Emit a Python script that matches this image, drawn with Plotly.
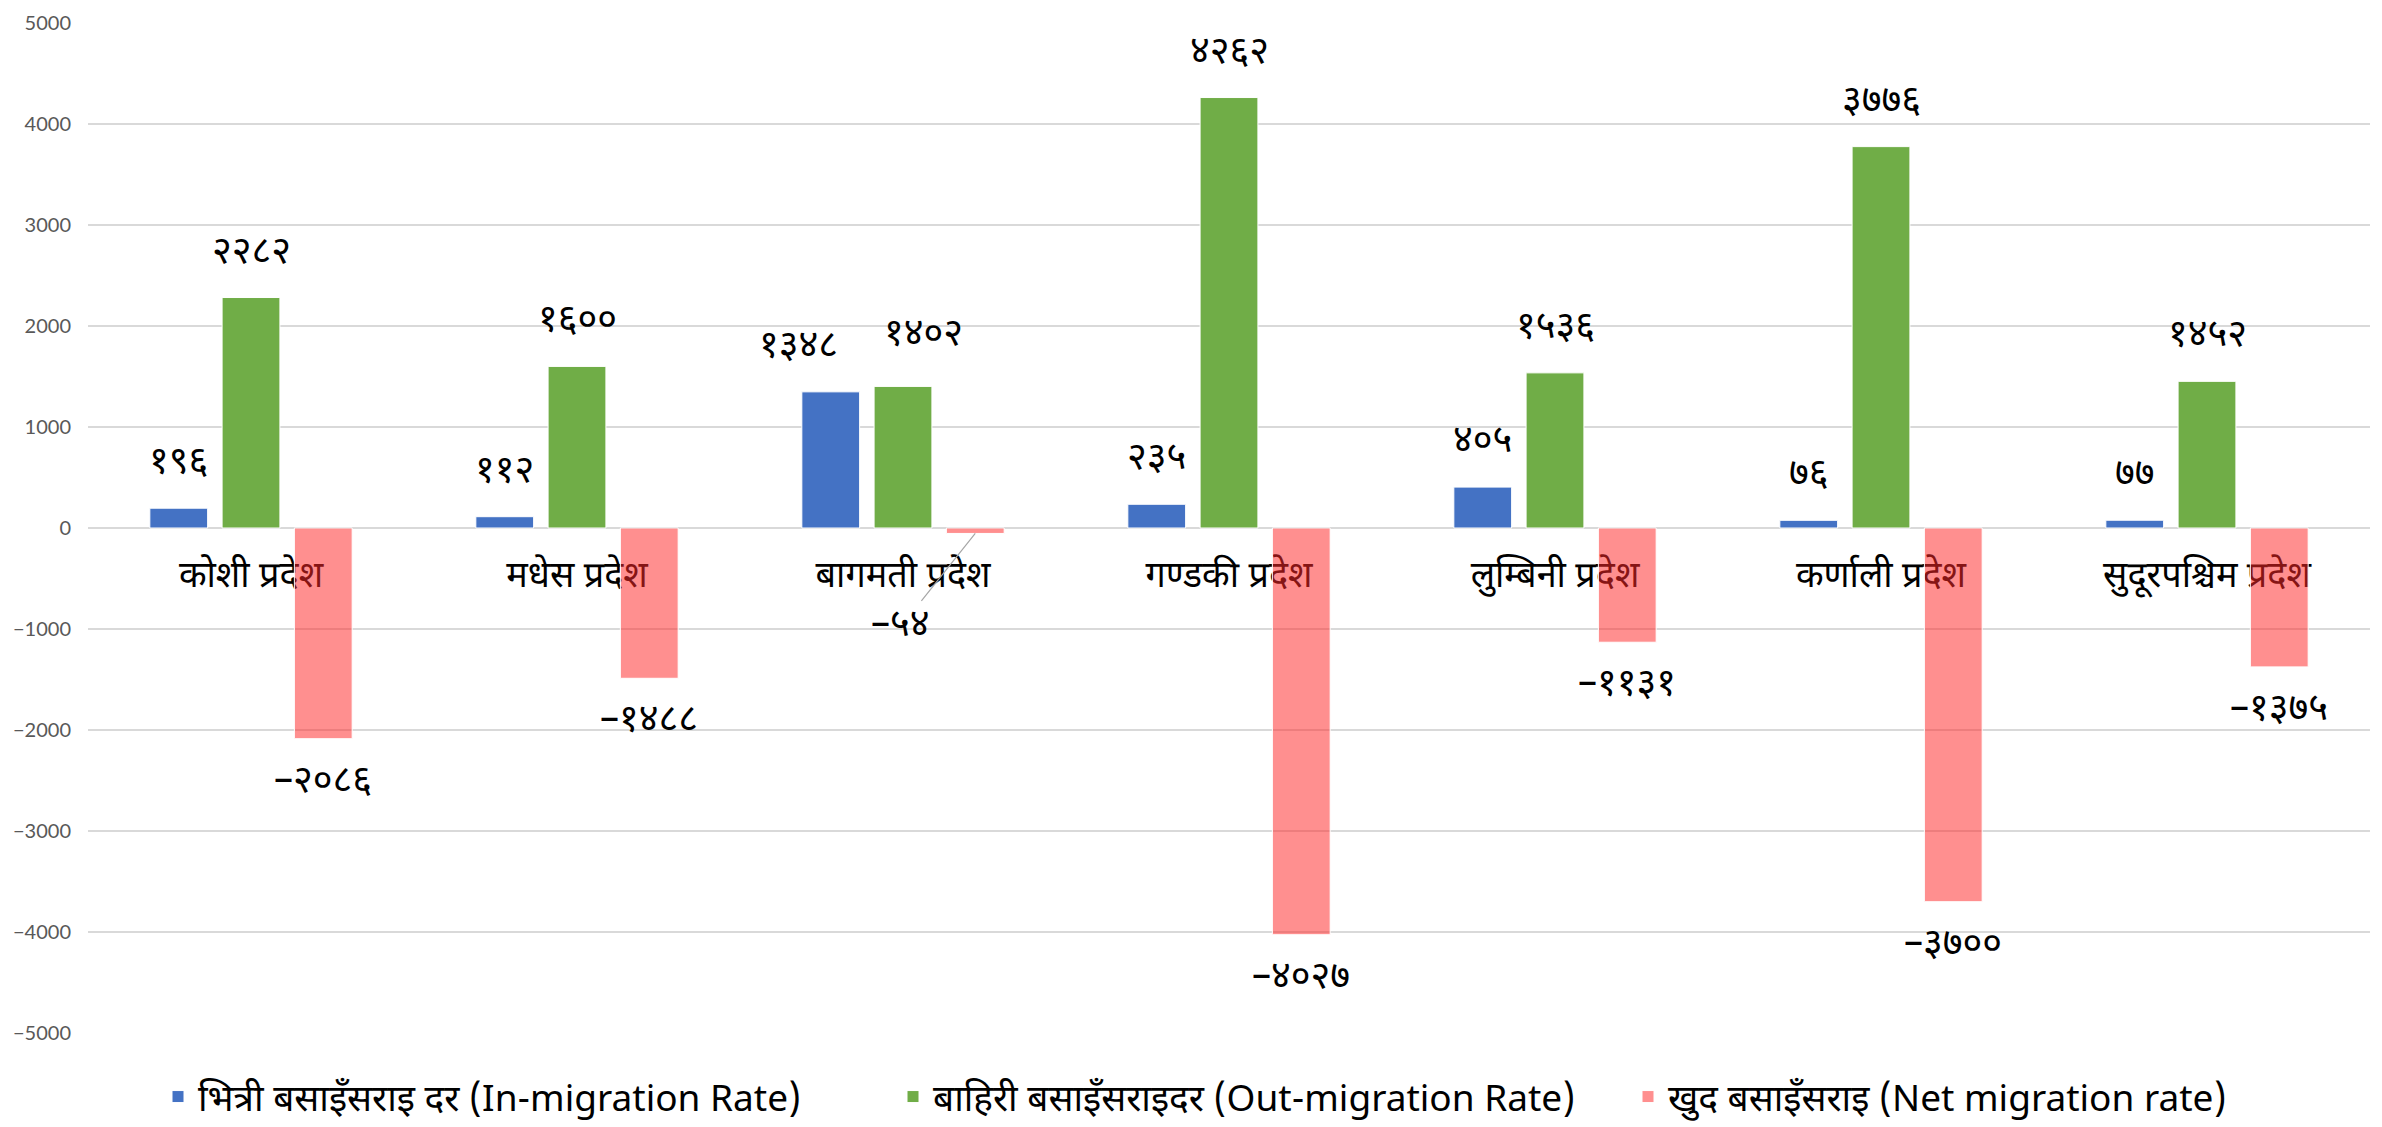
"""Provincial migration rates (Nepal) - grouped bar chart"""

import plotly.graph_objects as go

provinces = ['कोशी प्रदेश', 'मधेस प्रदेश', 'बागमती प्रदेश', 'गण्डकी प्रदेश',
             'लुम्बिनी प्रदेश', 'कर्णाली प्रदेश', 'सुदूरपश्चिम प्रदेश']
in_migration = [196, 112, 1348, 235, 405, 76, 77]
out_migration = [2282, 1600, 1402, 4262, 1536, 3776, 1452]
net_migration = [-2086, -1488, -54, -4027, -1131, -3700, -1375]

series_names = ['भित्री बसाइँसराइ दर (In-migration Rate)',
                'बाहिरी बसाइँसराइदर (Out-migration Rate)',
                'खुद बसाइँसराइ (Net migration rate)']
y_ticks = [5000, 4000, 3000, 2000, 1000, 0, -1000, -2000, -3000, -4000, -5000]

COLORS = ['#4472C4', '#70AD47', 'rgba(255,40,40,0.52)']
DEV_DIGITS = str.maketrans('0123456789-', '०१२३४५६७८९–')
DEV_FONT = 'Noto Sans Devanagari, Lohit Devanagari, Mangal, sans-serif'

# page body has an 8px margin, so the figure is a bit smaller than the window
W, H = 2374, 1119
M = dict(l=80, r=12, t=15, b=94)
BARGAP = 0.335
plot_w = W - M['l'] - M['r']
plot_h = H - M['t'] - M['b']
slot_px = plot_w / len(provinces) * (1 - BARGAP) / 3

# manual label nudges (series index, category index) -> (dx, dy) in px
nudges = {(0, 2): (-32, 0), (1, 2): (20, -6)}

fig = go.Figure()
all_series = [in_migration, out_migration, net_migration]
for name, vals, col in zip(series_names, all_series, COLORS):
    fig.add_trace(go.Bar(
        x=provinces, y=vals, name=name,
        marker=dict(color=col, line=dict(color='white', width=1)),
        hoverinfo='x+y',
    ))

annotations = []
for si, vals in enumerate(all_series):
    for ci, v in enumerate(vals):
        label = str(v).translate(DEV_DIGITS)
        dx, dy = nudges.get((si, ci), (0, 0))
        xs = (si - 1) * slot_px + dx
        if si == 2 and ci == 2:
            # small bar: label pulled out with a leader line
            annotations.append(dict(
                x=provinces[ci], y=v, xshift=xs, text=label,
                showarrow=True, arrowhead=0, arrowwidth=1.2, arrowcolor='#A6A6A6',
                ax=-75, ay=94, font=dict(size=38, color='black', family=DEV_FONT)))
            continue
        annotations.append(dict(
            x=provinces[ci], y=v, xshift=xs, yshift=(44 if v >= 0 else -44) - dy,
            text=label, showarrow=False, yanchor='middle',
            font=dict(size=38, color='black', family=DEV_FONT)))

fig.update_layout(
    width=W, height=H,
    margin=M,
    barmode='group', bargap=BARGAP, bargroupgap=0.2,
    paper_bgcolor='white', plot_bgcolor='white',
    annotations=annotations,
    legend=dict(orientation='h', x=(150 - M['l']) / plot_w, xanchor='left',
                yref='container', y=30 / H, yanchor='middle',
                font=dict(size=37, color='black', family=DEV_FONT),
                itemwidth=30, tracegroupgap=0,
                entrywidth=690, entrywidthmode='pixels'),
    xaxis=dict(anchor='free', position=0.5, showgrid=False, showline=False,
               ticks='', ticklabelstandoff=22, layer='below traces', automargin=False,
               tickfont=dict(size=36, color='black', family=DEV_FONT)),
    yaxis=dict(range=[-5000, 5000], tickvals=y_ticks, showgrid=True,
               gridcolor='#D9D9D9', gridwidth=2, zeroline=True,
               zerolinecolor='#D9D9D9', zerolinewidth=2, showline=False,
               ticklabelstandoff=16, ticklabeloverflow='allow', automargin=False,
               tickfont=dict(size=20, color='#595959', family='Lato, Carlito, sans-serif')),
)

fig.write_html("out.html")
